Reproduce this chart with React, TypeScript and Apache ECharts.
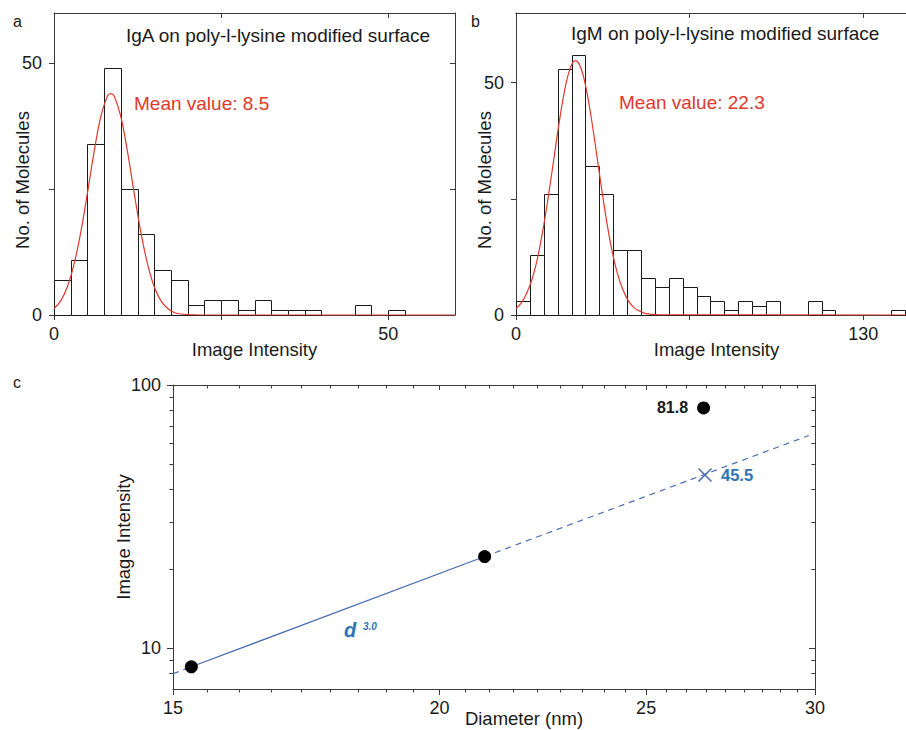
import React, { useEffect, useRef } from "react";
import * as echarts from "echarts";

// ---------- Panel a: IgA histogram ----------
const binWidthA = 2.5;
const countsA = [7, 11, 34, 49, 25, 16, 9, 7, 2, 3, 3, 1, 3, 1, 1, 1, 0, 0, 2, 0, 1];
const fitAX = [0, 1, 2, 3, 4, 5, 6, 7, 8, 8.5, 9, 10, 11, 12, 13, 14, 15, 16, 17, 18, 19, 20, 21, 22, 60];
const fitAY = [1.3, 2.8, 5.6, 10.1, 16.4, 24.2, 32.4, 39.4, 43.5, 44, 43.5, 39.4, 32.4, 24.2, 16.4, 10.1, 5.6, 2.8, 1.3, 0.5, 0.2, 0.07, 0.02, 0, 0];
const aXTicks = [0, 25, 50];
const aXLabels = [0, 50];
const aYTicks = [0, 25, 50];
const aYLabels = [0, 50];

// ---------- Panel b: IgM histogram ----------
const binWidthB = 5.2;
const countsB = [3, 13, 26, 53, 56, 32, 26, 14, 14, 8, 6, 8, 6, 4, 3, 1, 3, 2, 3, 0, 0, 3, 1, 0, 0, 0, 0, 1];
const fitBX = [0, 2, 4, 6, 8, 10, 12, 14, 16, 18, 20, 22, 22.3, 24, 26, 28, 30, 32, 34, 36, 38, 40, 42, 44, 46, 48, 50, 52, 54, 146.4];
const fitBY = [1.4, 2.6, 4.7, 7.7, 12.1, 18.0, 25.1, 32.9, 40.8, 47.7, 52.6, 54.7, 54.7, 53.6, 49.5, 43.1, 35.4, 27.4, 20.0, 13.7, 8.9, 5.5, 3.1, 1.7, 0.9, 0.4, 0.2, 0.1, 0.03, 0];
const bXTicks = [0, 65, 130];
const bXLabels = [0, 130];
const bYTicks = [0, 25, 50];
const bYLabels = [0, 50];

// ---------- Panel c: intensity vs diameter ----------
const diameters = [15.3, 21.0, 26.6];
const intensities = [8.5, 22.3, 81.8];
const predictedD = [26.64];
const predictedI = [45.5];
const fitLineD = [15.0, 15.3, 21.0, 29.8];
const fitLineI = [8.0, 8.5, 22.3, 64.3];
const cXMajor = [15, 20, 25, 30];
const cXMinor = [15.56, 16.11, 16.67, 17.22, 17.78, 18.33, 18.89, 19.44, 20.56, 21.11, 21.67, 22.22, 22.78, 23.33, 23.89, 24.44, 25.56, 26.11, 26.67, 27.22, 27.78, 28.33, 28.89, 29.44];
const cYMajor = [10, 100];
const cYMinor = [8, 9, 20, 30, 40, 50, 60, 70, 80, 90];

const FONT = '"Liberation Sans", Arial, Helvetica, sans-serif';
const INK = "#1a1a1a";
const FRAME = "#3a3a3a";
const RED = "#e2382c";
const BLUE_LINE = "#4a6db5";
const BLUE_TEXT = "#2e74b5";

type AxOpt = {
  gridIndex: number;
  type: "value" | "log";
  min: number;
  max: number;
  position: string;
  ticks: number[];
  labels?: number[];
  tickLen: number;
  inside: boolean;
  line: boolean;
  margin?: number;
  name?: string;
  nameGap?: number;
  namePadding?: number[];
};

function axis(o: AxOpt) {
  const a: any = {
    type: o.type,
    gridIndex: o.gridIndex,
    min: o.min,
    max: o.max,
    position: o.position,
    axisLine: { show: o.line, onZero: false, lineStyle: { color: FRAME, width: 1 } },
    axisTick: { show: true, inside: o.inside, length: o.tickLen, customValues: o.ticks, lineStyle: { color: FRAME, width: 1 } },
    axisLabel: o.labels
      ? { show: true, customValues: o.labels, fontSize: 18, fontFamily: FONT, color: INK, margin: o.margin ?? 10 }
      : { show: false },
    splitLine: { show: false },
    minorTick: { show: false },
    nameMoveOverlap: false,
  };
  if (o.type === "log") a.logBase = 10;
  if (o.name) {
    a.name = o.name;
    a.nameLocation = "middle";
    a.nameGap = o.nameGap;
    a.nameTextStyle = { fontSize: 18.5, fontFamily: FONT, color: INK, padding: o.namePadding ?? [0, 0, 0, 0] };
  }
  return a;
}

function bins(counts: number[], w: number) {
  return counts.map((c, i) => [i * w, (i + 1) * w, c]).filter((b) => b[2] > 0);
}

function histSeries(xi: number, yi: number, data: number[][]) {
  return {
    type: "custom",
    xAxisIndex: xi,
    yAxisIndex: yi,
    data,
    renderItem: (_p: any, api: any) => {
      const tl = api.coord([api.value(0), api.value(2)]);
      const br = api.coord([api.value(1), 0]);
      const x0 = Math.round(tl[0]) + 0.5;
      const x1 = Math.round(br[0]) + 0.5;
      const y0 = Math.round(tl[1]) + 0.5;
      const y1 = Math.round(br[1]) + 0.5;
      return {
        type: "rect",
        shape: { x: x0, y: y0, width: x1 - x0, height: y1 - y0 },
        style: { fill: "#ffffff", stroke: INK, lineWidth: 1 },
      };
    },
  };
}

function curveSeries(xi: number, yi: number, xs: number[], ys: number[]) {
  return {
    type: "line",
    xAxisIndex: xi,
    yAxisIndex: yi,
    data: xs.map((x, i) => [x, ys[i]]),
    smooth: 0.4,
    showSymbol: false,
    symbol: "none",
    lineStyle: { color: RED, width: 1.2 },
    z: 5,
  };
}

function txt(text: string, x: number, y: number, size: number, color: string, extra: any = {}) {
  return {
    type: "text",
    x,
    y,
    silent: true,
    style: {
      text,
      fill: color,
      fontSize: size,
      fontFamily: FONT,
      align: "left",
      verticalAlign: "middle",
      ...extra,
    },
  };
}

export default function App() {
  const ref = useRef<HTMLDivElement>(null);
  useEffect(() => {
    if (!ref.current) return;
    const chart = echarts.init(ref.current, undefined, { renderer: "svg" });
    const option: any = {
      animation: false,
      backgroundColor: "#ffffff",
      grid: [
        { left: 54, top: 13, width: 401, height: 302, outerBoundsMode: "none" },
        { left: 516, top: 13, width: 391, height: 302, outerBoundsMode: "none" },
        { left: 173, top: 385, width: 642, height: 304, outerBoundsMode: "none" },
      ],
      xAxis: [
        axis({ gridIndex: 0, type: "value", min: 0, max: 60, position: "bottom", ticks: aXTicks, labels: aXLabels, tickLen: 5, inside: false, line: true, margin: 10, name: "Image Intensity", nameGap: 25 }),
        axis({ gridIndex: 0, type: "value", min: 0, max: 60, position: "top", ticks: aXTicks, tickLen: 5, inside: true, line: true }),
        axis({ gridIndex: 1, type: "value", min: 0, max: 146.4, position: "bottom", ticks: bXTicks, labels: bXLabels, tickLen: 5, inside: false, line: true, margin: 10, name: "Image Intensity", nameGap: 25, namePadding: [0, 0, 0, 10] }),
        axis({ gridIndex: 1, type: "value", min: 0, max: 146.4, position: "top", ticks: bXTicks, tickLen: 5, inside: true, line: true }),
        axis({ gridIndex: 2, type: "log", min: 15, max: 30, position: "bottom", ticks: cXMajor, labels: cXMajor, tickLen: 6, inside: false, line: true, margin: 10, name: "Diameter (nm)", nameGap: 20, namePadding: [0, 0, 0, 60] }),
        axis({ gridIndex: 2, type: "log", min: 15, max: 30, position: "bottom", ticks: cXMinor, tickLen: 3.5, inside: false, line: false }),
        axis({ gridIndex: 2, type: "log", min: 15, max: 30, position: "top", ticks: cXMajor, tickLen: 5, inside: true, line: true }),
        axis({ gridIndex: 2, type: "log", min: 15, max: 30, position: "top", ticks: cXMinor, tickLen: 3.5, inside: true, line: false }),
      ],
      yAxis: [
        axis({ gridIndex: 0, type: "value", min: 0, max: 60, position: "left", ticks: aYTicks, labels: aYLabels, tickLen: 5, inside: false, line: true, margin: 12, name: "No. of Molecules", nameGap: 22, namePadding: [0, 32, 0, 0] }),
        axis({ gridIndex: 0, type: "value", min: 0, max: 60, position: "right", ticks: aYTicks, tickLen: 5, inside: true, line: true }),
        axis({ gridIndex: 1, type: "value", min: 0, max: 65, position: "left", ticks: bYTicks, labels: bYLabels, tickLen: 5, inside: false, line: true, margin: 12, name: "No. of Molecules", nameGap: 22, namePadding: [0, 32, 0, 0] }),
        axis({ gridIndex: 2, type: "log", min: 7, max: 100, position: "left", ticks: cYMajor, labels: cYMajor, tickLen: 6, inside: false, line: true, margin: 12, name: "Image Intensity", nameGap: 40 }),
        axis({ gridIndex: 2, type: "log", min: 7, max: 100, position: "left", ticks: cYMinor, tickLen: 3.5, inside: false, line: false }),
        axis({ gridIndex: 2, type: "log", min: 7, max: 100, position: "right", ticks: cYMajor, tickLen: 6, inside: true, line: true }),
        axis({ gridIndex: 2, type: "log", min: 7, max: 100, position: "right", ticks: cYMinor, tickLen: 3.5, inside: true, line: false }),
      ],
      series: [
        histSeries(0, 0, bins(countsA, binWidthA)),
        curveSeries(0, 0, fitAX, fitAY),
        histSeries(2, 2, bins(countsB, binWidthB)),
        curveSeries(2, 2, fitBX, fitBY),
        {
          type: "line",
          xAxisIndex: 4,
          yAxisIndex: 3,
          data: [[fitLineD[1], fitLineI[1]], [fitLineD[2], fitLineI[2]]],
          showSymbol: false,
          symbol: "none",
          lineStyle: { color: BLUE_LINE, width: 1.2 },
        },
        {
          type: "line",
          xAxisIndex: 4,
          yAxisIndex: 3,
          data: [[fitLineD[0], fitLineI[0]], [fitLineD[1], fitLineI[1]]],
          showSymbol: false,
          symbol: "none",
          lineStyle: { color: BLUE_LINE, width: 1.2, type: [6, 5] },
        },
        {
          type: "line",
          xAxisIndex: 4,
          yAxisIndex: 3,
          data: [[fitLineD[2], fitLineI[2]], [fitLineD[3], fitLineI[3]]],
          showSymbol: false,
          symbol: "none",
          lineStyle: { color: BLUE_LINE, width: 1.2, type: [6, 5] },
        },
        {
          type: "scatter",
          xAxisIndex: 4,
          yAxisIndex: 3,
          symbol: "circle",
          symbolSize: 13,
          itemStyle: { color: "#000000", opacity: 1 },
          z: 6,
          data: diameters.map((d, i) =>
            i === 2
              ? {
                  value: [d, intensities[i]],
                  label: {
                    show: true,
                    position: "left",
                    distance: 9,
                    formatter: (p: any) => p.value[1].toFixed(1),
                    fontSize: 16,
                    fontWeight: "bold",
                    fontFamily: FONT,
                    color: INK,
                    opacity: 1,
                  },
                }
              : { value: [d, intensities[i]] }
          ),
        },
        {
          type: "scatter",
          xAxisIndex: 4,
          yAxisIndex: 3,
          symbol: "path://M0,0L10,10M10,0L0,10",
          symbolSize: 13,
          itemStyle: { color: "none", borderColor: BLUE_LINE, borderWidth: 1.5, opacity: 1 },
          z: 6,
          label: {
            show: true,
            position: "right",
            distance: 7,
            formatter: (p: any) => p.value[1].toFixed(1),
            fontSize: 16.5,
            fontWeight: "bold",
            fontFamily: FONT,
            color: BLUE_TEXT,
            opacity: 1,
          },
          data: predictedD.map((d, i) => [d, predictedI[i]]),
        },
      ],
      graphic: [
        txt("a", 13, 21.5, 16, INK),
        txt("b", 471, 21.2, 16, INK),
        txt("c", 13, 382, 16, INK),
        txt("IgA on poly-l-lysine modified surface", 126, 35, 19, INK),
        txt("IgM on poly-l-lysine modified surface", 571, 33.7, 19, INK),
        txt("Mean value: 8.5", 134, 103.4, 19, RED),
        txt("Mean value: 22.3", 619, 102.7, 19, RED),
        txt("d", 344, 629.8, 20, BLUE_TEXT, { fontWeight: "bold", fontStyle: "italic" }),
        txt("3.0", 363, 626.5, 10, BLUE_TEXT, { fontWeight: "bold", fontStyle: "italic" }),
      ],
    };
    chart.setOption(option);
    return () => chart.dispose();
  }, []);
  return (
    <div
      ref={ref}
      style={{ position: "fixed", left: 0, top: 0, width: 906, height: 730, background: "#ffffff" }}
    />
  );
}
